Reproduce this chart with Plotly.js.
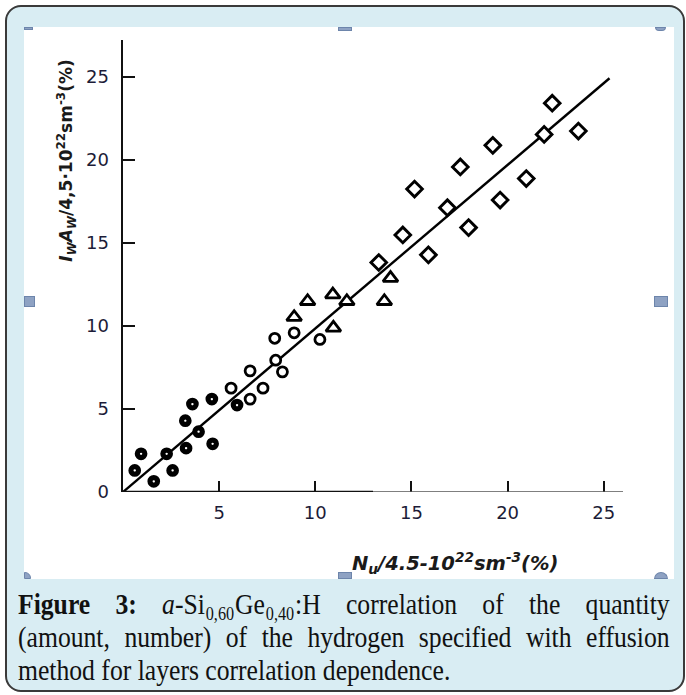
<!DOCTYPE html>
<html>
<head>
<meta charset="utf-8">
<script src="https://cdn.plot.ly/plotly-3.0.1.min.js"></script>
<style>
  html, body { margin:0; padding:0; background:#ffffff; width:686px; height:695px; overflow:hidden; }
  #frame { position:absolute; left:5px; top:5px; width:680px; height:687px; box-sizing:border-box;
           border:2px solid #3a3a3a; border-radius:16px; background:#d9edf3; }
  #chart { position:absolute; left:24px; top:27px; width:650px; height:552px; background:#ffffff; }
  .h { position:absolute; background:#8ea2c3; border:1px solid #6d85ab; box-sizing:border-box; }
  #caption { position:absolute; left:18px; top:588px; width:724px; font-family:"Liberation Serif", "DejaVu Serif", serif;
             font-size:28.5px; line-height:33px; color:#111; transform:scaleX(0.9); transform-origin:0 0; }
  #caption .j { display:block; text-align:justify; text-align-last:justify; white-space:nowrap; }
  #caption .l { display:block; text-align:left; white-space:nowrap; }
  #caption sub { font-size:18px; vertical-align:-6px; line-height:0; padding:0 1px; }
</style>
</head>
<body>
<div id="frame"></div>
<div id="chart"></div>
<div class="h" style="left:24px;top:27px;width:9px;height:3px;"></div>
<div class="h" style="left:338px;top:27px;width:14px;height:4px;"></div>
<div class="h" style="left:655px;top:27px;width:11px;height:4px;border-radius:0 0 6px 6px;"></div>
<div class="h" style="left:24px;top:296px;width:11px;height:11px;"></div>
<div class="h" style="left:654px;top:296px;width:14px;height:11px;"></div>
<div class="h" style="left:24px;top:572px;width:7px;height:7px;border-radius:0 6px 0 0;"></div>
<div class="h" style="left:338px;top:572px;width:14px;height:7px;"></div>
<div class="h" style="left:654px;top:572px;width:14px;height:7px;border-radius:7px 7px 0 0;"></div>
<div id="caption">
  <span class="j"><b>Figure 3:</b> <i>a</i>-Si<sub>0,60</sub>Ge<sub>0,40</sub>:H correlation of the quantity</span>
  <span class="j">(amount, number) of the hydrogen specified with effusion</span>
  <span class="l">method for layers correlation dependence.</span>
</div>
<script>
// Filled circles (black with white centre)
const filledX = [0.61, 0.94, 1.60, 2.27, 2.58, 3.28, 3.24, 3.61, 3.93, 4.62, 4.66, 5.93];
const filledY = [1.30, 2.30, 0.64, 2.30, 1.30, 2.64, 4.29, 5.29, 3.63, 5.59, 2.90, 5.23];
// Open circles
const openX = [5.62, 6.61, 6.61, 7.28, 7.94, 8.29, 7.89, 8.90, 10.24];
const openY = [6.25, 7.29, 5.59, 6.25, 7.93, 7.23, 9.25, 9.58, 9.18];
// Open triangles
const triX = [8.90, 9.60, 10.91, 11.64, 10.94, 13.91, 13.59];
const triY = [10.52, 11.48, 11.88, 11.48, 9.88, 12.87, 11.48];
// Open diamonds
const diaX = [13.30, 14.55, 15.16, 15.88, 16.87, 17.54, 17.97, 19.23, 19.61, 20.97, 21.90, 23.68, 22.32];
const diaY = [13.81, 15.47, 18.23, 14.27, 17.11, 19.56, 15.91, 20.86, 17.57, 18.86, 21.52, 21.72, 23.40];
// Correlation line
const lineX = [0, 25.3];
const lineY = [0, 24.9];
// Ticks
const xTicks = [5, 10, 15, 20, 25];
const yTicks = [0, 5, 10, 15, 20, 25];

const traces = [
  { x: lineX, y: lineY, mode: 'lines', line: { color: '#000', width: 2.4 }, hoverinfo: 'skip' },
  { x: filledX, y: filledY, mode: 'markers', cliponaxis: false,
    marker: { symbol: 'circle', size: 7.5, color: '#ffffff', line: { color: '#000', width: 5.2 } } },
  { x: openX, y: openY, mode: 'markers', cliponaxis: false,
    marker: { symbol: 'circle', size: 10, color: '#ffffff', line: { color: '#000', width: 2.8 } } },
  { x: triX, y: triY, mode: 'markers', cliponaxis: false,
    marker: { symbol: 'triangle-up', size: 13, color: '#ffffff', line: { color: '#000', width: 2.8 } } },
  { x: diaX, y: diaY, mode: 'markers', cliponaxis: false,
    marker: { symbol: 'diamond', size: 12, color: '#ffffff', line: { color: '#000', width: 2.9 } } }
];

const tickFont = { family: 'DejaVu Sans', size: 18, color: '#1c1c38' };

const layout = {
  width: 650, height: 552,
  margin: { l: 99, r: 51, t: 13, b: 87, pad: 0 },
  paper_bgcolor: '#ffffff', plot_bgcolor: '#ffffff',
  showlegend: false,
  xaxis: { range: [0, 26], showgrid: false, zeroline: false, showline: false,
           ticks: 'inside', ticklen: 11, tickwidth: 2, tickcolor: '#111',
           tickmode: 'array', tickvals: xTicks, ticktext: xTicks.map(String),
           tickfont: tickFont, ticklabelstandoff: 8, fixedrange: true },
  yaxis: { range: [0, 27.2], showgrid: false, zeroline: false, showline: true,
           linecolor: '#111', linewidth: 2.5,
           ticks: 'inside', ticklen: 12, tickwidth: 2, tickcolor: '#111',
           tickmode: 'array', tickvals: yTicks, ticktext: yTicks.map(String),
           tickfont: tickFont, ticklabelstandoff: 8, fixedrange: true },
  shapes: [
    { type: 'line', xref: 'x', yref: 'y', x0: 0, x1: 13.0, y0: 0, y1: 0, line: { color: '#111', width: 2.5 } },
    { type: 'line', xref: 'x', yref: 'y', x0: 13.0, x1: 26, y0: 0, y1: 0, line: { color: '#555', width: 1.6 } }
  ],
  annotations: [
    { xref: 'paper', yref: 'paper', x: -0.112, y: 0.733, xanchor: 'center', yanchor: 'middle',
      textangle: -90, showarrow: false,
      text: '<b><i>I<sub>W</sub>A<sub>W</sub></i>/4,5·10<sup>22</sup>sm<sup>-3</sup>(%)</b>',
      font: { family: 'DejaVu Sans', size: 17, color: '#1a1a1a' } },
    { xref: 'paper', yref: 'paper', x: 0.664, y: -0.158, xanchor: 'center', yanchor: 'middle',
      showarrow: false,
      text: '<b><i>N<sub>u</sub>/4.5-10<sup>22</sup>sm<sup>-3</sup>(%)</i></b>',
      font: { family: 'DejaVu Sans', size: 19.5, color: '#1a1a1a' } }
  ]
};

Plotly.newPlot('chart', traces, layout, { staticPlot: true, displayModeBar: false });
</script>
</body>
</html>
